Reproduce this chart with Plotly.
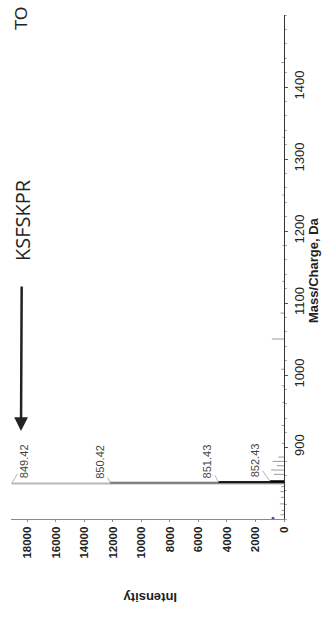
import plotly.graph_objects as go

# ---- data ----
peak_mass = [849.42, 850.42, 851.43, 852.43]
peak_intensity = [19100, 12200, 4600, 980]
peak_labels = ["849.42", "850.42", "851.43", "852.43"]

noise_mass = [806, 812, 821, 830, 838, 845, 862, 868, 874, 880, 886, 905, 930, 962, 985, 1008, 1050, 1086, 1130, 1180, 1250, 1330, 1434]
noise_intensity = [250, 180, 300, 220, 260, 200, 700, 900, 500, 800, 400, 150, 180, 120, 150, 200, 850, 250, 120, 100, 120, 100, 200]

mass_ticks = [900, 1000, 1100, 1200, 1300, 1400]
intensity_ticks = [0, 2000, 4000, 6000, 8000, 10000, 12000, 14000, 16000, 18000]

peptide = "KSFSKPR"
corner_text = "TO"

# ---- styling ----
peak_colors = ["#b8b8b8", "#7a7a7a", "#1c1c1c", "#000000"]
label_offsets = [(13, -22), (-10, -21), (-11, -21), (-15, -21)]

# plot area is 273 x 504 px, starting at (11, 15)
L, T, PW, PH = 11, 15, 273, 504
W, H = 324, 618


def px(xp):
    return (xp - L) / PW


def py(yp):
    return (T + PH - yp) / PH


fig = go.Figure()

# noise peaks
for m, v in zip(noise_mass, noise_intensity):
    fig.add_trace(go.Scatter(x=[0, v], y=[m, m], mode="lines",
                             line=dict(color="#9a9a9a", width=1),
                             hoverinfo="skip", showlegend=False))

# main peaks (longest first so shorter ones sit on top)
order = sorted(range(len(peak_mass)), key=lambda i: -peak_intensity[i])
for i in order:
    fig.add_trace(go.Scatter(x=[0, peak_intensity[i]], y=[peak_mass[i], peak_mass[i]],
                             mode="lines", line=dict(color=peak_colors[i], width=2),
                             hoverinfo="skip", showlegend=False))

# small blue marker near the baseline
fig.add_trace(go.Scatter(x=[770], y=[801], mode="markers",
                         marker=dict(color="#3a4bd0", size=3),
                         hoverinfo="skip", showlegend=False))

annotations = []
for m, v, t, (ax, ay) in zip(peak_mass, peak_intensity, peak_labels, label_offsets):
    annotations.append(dict(x=v, y=m, xref="x", yref="y", text=t, textangle=-90,
                            showarrow=True, arrowhead=0, arrowwidth=0.8, arrowcolor="#a0a0a0",
                            ax=ax, ay=ay,
                            font=dict(family="Liberation Sans", size=11, color="#444")))

annotations.append(dict(x=px(21), y=py(431), xref="paper", yref="paper",
                        text=peptide, textangle=-90, showarrow=True,
                        arrowhead=2, arrowsize=1.1, arrowwidth=2.5, arrowcolor="#222",
                        ax=1, ay=-211, startstandoff=24,
                        font=dict(family="Open Sans", size=20, color="#222")))

annotations.append(dict(x=px(22), y=py(19), xref="paper", yref="paper",
                        xanchor="center", yanchor="middle",
                        text=corner_text, textangle=-90, showarrow=False,
                        font=dict(family="Liberation Sans", size=17, color="#222")))

annotations.append(dict(x=px(313), y=py(270), xref="paper", yref="paper",
                        xanchor="center", yanchor="middle",
                        text="Mass/Charge, Da", textangle=-90, showarrow=False,
                        font=dict(family="Liberation Sans", size=13, color="#222", weight="bold")))

annotations.append(dict(x=px(150), y=py(598), xref="paper", yref="paper",
                        xanchor="center", yanchor="middle",
                        text="Intensity", textangle=180, showarrow=False,
                        font=dict(family="Liberation Sans", size=13, color="#222", weight="bold")))

fig.update_layout(
    width=W, height=H,
    margin=dict(l=L, r=W - L - PW, t=T, b=H - T - PH, autoexpand=False),
    paper_bgcolor="white", plot_bgcolor="white",
    showlegend=False, hovermode=False,
    annotations=annotations,
    xaxis=dict(range=[19150, 0], tickvals=intensity_ticks,
               ticktext=[str(v) for v in intensity_ticks], tickangle=-90,
               showgrid=False, zeroline=False, showline=True, linecolor="#8a8a8a", linewidth=1,
               ticks="outside", ticklen=2, tickcolor="#8a8a8a",
               tickfont=dict(family="Liberation Sans", size=11.5, color="#222", weight="bold")),
    yaxis=dict(range=[800, 1500], side="right", tickvals=mass_ticks,
               ticktext=[str(v) for v in mass_ticks], tickangle=-90,
               showgrid=False, zeroline=False, showline=True, linecolor="#333", linewidth=1,
               ticks="outside", ticklen=3, tickcolor="#555",
               minor=dict(ticks="outside", ticklen=2, dtick=20, tickcolor="#aaa"),
               tickfont=dict(family="Liberation Sans", size=13, color="#222")),
)

fig.write_html("out.html",
               config={"displayModeBar": False},
               post_script="document.body.style.margin='0';document.body.style.overflow='hidden';")
